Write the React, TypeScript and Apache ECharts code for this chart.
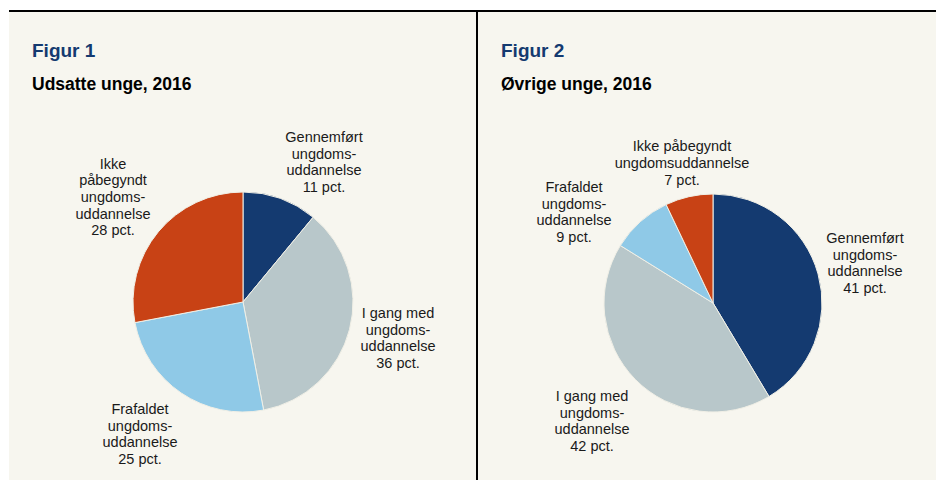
import React, { useEffect, useRef } from "react";
import * as echarts from "echarts";

const categories = [
  "Gennemført ungdomsuddannelse",
  "I gang med ungdomsuddannelse",
  "Frafaldet ungdomsuddannelse",
  "Ikke påbegyndt ungdomsuddannelse",
];
const udsatteValues = [11, 36, 25, 28];
const oevrigeValues = [41, 42, 9, 7];
const udsatteLabels = [
  "Gennemført\nungdoms-\nuddannelse",
  "I gang med\nungdoms-\nuddannelse",
  "Frafaldet\nungdoms-\nuddannelse",
  "Ikke\npåbegyndt\nungdoms-\nuddannelse",
];
const oevrigeLabels = [
  "Gennemført\nungdoms-\nuddannelse",
  "I gang med\nungdoms-\nuddannelse",
  "Frafaldet\nungdoms-\nuddannelse",
  "Ikke påbegyndt\nungdomsuddannelse",
];
const titles = ["Figur 1", "Figur 2"];
const subtitles = ["Udsatte unge, 2016", "Øvrige unge, 2016"];

const colors = ["#143a70", "#b8c7ca", "#8fc9e7", "#c84215"];
const labelPos1 = [
  [324, 162],
  [398, 338],
  [140, 434],
  [113, 197],
];
const labelPos2 = [
  [865, 263],
  [592, 421],
  [574, 212],
  [682, 163],
];

const FONT = "'Liberation Sans', Arial, sans-serif";

export default function App() {
  const ref = useRef<HTMLDivElement>(null);
  useEffect(() => {
    if (!ref.current) return;
    const chart = echarts.init(ref.current, null, { renderer: "svg" });
    const makeSeries = (
      values: number[],
      labels: string[],
      center: number[],
      radius: number,
      pos: number[][]
    ) => ({
      type: "pie",
      center,
      radius,
      startAngle: 90,
      clockwise: true,
      data: categories.map((c, i) => ({
        name: c,
        value: values[i],
        itemStyle: { color: colors[i] },
        label: { formatter: `${labels[i]}\n${values[i]} pct.` },
      })),
      itemStyle: { borderColor: "#f0efe6", borderWidth: 1 },
      label: {
        show: true,
        position: "outside",
        alignTo: "none",
        overflow: "none",
        width: 200,
        color: "#1a1a1a",
        fontFamily: FONT,
        fontSize: 14.5,
        lineHeight: 16.7,
        align: "center",
      },
      labelLine: { show: false },
      labelLayout: (p: any) => ({
        x: pos[p.dataIndex][0],
        y: pos[p.dataIndex][1],
        align: "center",
        verticalAlign: "middle",
      }),
      emphasis: { disabled: true },
      silent: true,
    });
    chart.setOption({
      animation: false,
      backgroundColor: "#ffffff",
      graphic: [
        { type: "rect", shape: { x: 9, y: 12, width: 927, height: 468 }, style: { fill: "#f7f6ef" }, z: -10 },
        { type: "rect", shape: { x: 9, y: 10, width: 927, height: 2 }, style: { fill: "#000" } },
        { type: "rect", shape: { x: 476, y: 12, width: 2, height: 468 }, style: { fill: "#000" } },
        { type: "text", x: 32, y: 41, style: { text: titles[0], fill: "#143a70", font: `bold 19px ${FONT}` } },
        { type: "text", x: 32, y: 75, style: { text: subtitles[0], fill: "#000", font: `bold 17.5px ${FONT}` } },
        { type: "text", x: 501, y: 41, style: { text: titles[1], fill: "#143a70", font: `bold 19px ${FONT}` } },
        { type: "text", x: 501, y: 75, style: { text: subtitles[1], fill: "#000", font: `bold 17.5px ${FONT}` } },
      ],
      series: [
        makeSeries(udsatteValues, udsatteLabels, [243, 302], 110, labelPos1),
        makeSeries(oevrigeValues, oevrigeLabels, [713, 303], 109, labelPos2),
      ],
    });
    return () => chart.dispose();
  }, []);
  return (
    <div
      ref={ref}
      style={{ position: "fixed", left: 0, top: 0, width: 936, height: 480 }}
    />
  );
}
